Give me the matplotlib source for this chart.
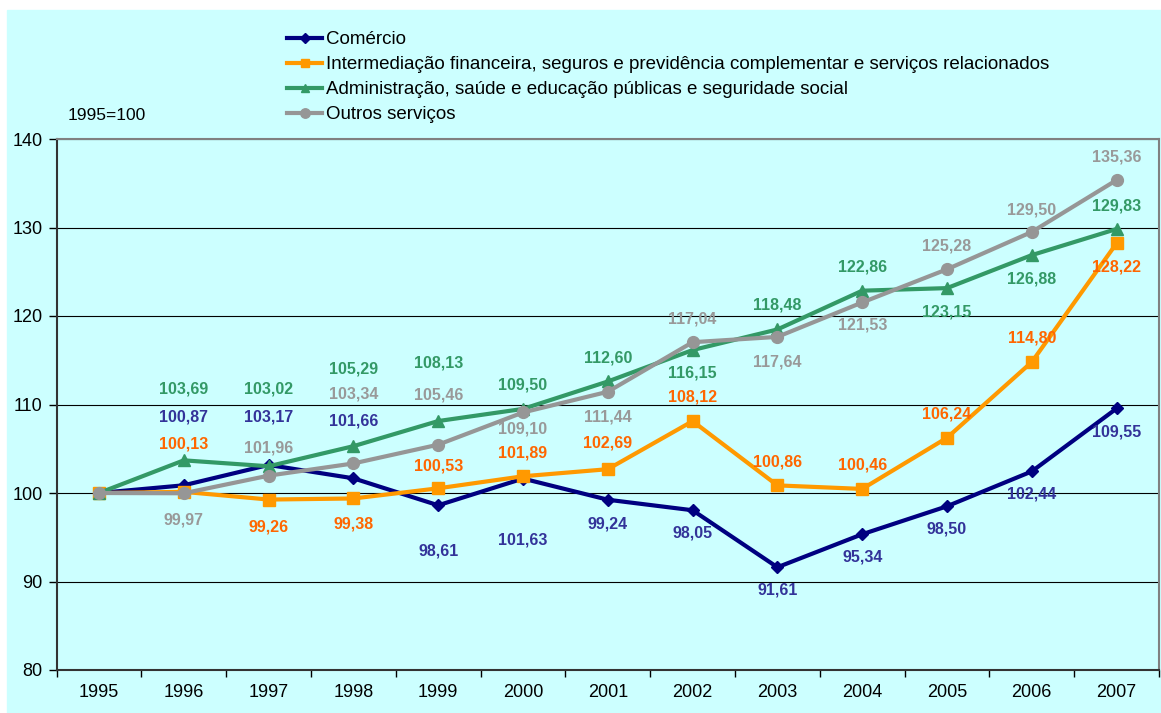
import matplotlib.pyplot as plt
from matplotlib.patches import Rectangle
from matplotlib.ticker import FixedLocator

plt.rcParams['font.family'] = ['Liberation Sans', 'DejaVu Sans']

anos = ['1995', '1996', '1997', '1998', '1999', '2000', '2001',
        '2002', '2003', '2004', '2005', '2006', '2007']

comercio = [100.00, 100.87, 103.17, 101.66, 98.61, 101.63, 99.24,
            98.05, 91.61, 95.34, 98.50, 102.44, 109.55]
financeira = [100.00, 100.13, 99.26, 99.38, 100.53, 101.89, 102.69,
              108.12, 100.86, 100.46, 106.24, 114.80, 128.22]
administracao = [100.00, 103.69, 103.02, 105.29, 108.13, 109.50, 112.60,
                 116.15, 118.48, 122.86, 123.15, 126.88, 129.83]
outros = [100.00, 99.97, 101.96, 103.34, 105.46, 109.10, 111.44,
          117.04, 117.64, 121.53, 125.28, 129.50, 135.36]

nomes = ['Comércio',
         'Intermediação financeira, seguros e previdência complementar e serviços relacionados',
         'Administração, saúde e educação públicas e seguridade social',
         'Outros serviços']

# label offsets in pixels (positive = below the point), first year has no label
desloc_com = [None, -68, -48, -57, 46, 61, 24, 23, 23, 23, 23, 23, 24]
desloc_fin = [None, -48, 27, 26, -22, -23, -26, -24, -23, -24, -24, -24, 24]
desloc_adm = [None, -71, -77, -77, -58, -24, -23, 23, -24, -24, 24, 24, -23]
desloc_out = [None, 27, -28, -69, -50, 17, 25, -23, 25, 23, -23, -22, -23]

series = [
    (comercio, '#000080', '#333399', 'D', 6, desloc_com),
    (financeira, '#FF9900', '#FF6600', 's', 8, desloc_fin),
    (administracao, '#339966', '#339966', '^', 8, desloc_adm),
    (outros, '#969696', '#999999', 'o', 8.5, desloc_out),
]

W, H = 1161, 713
fig = plt.figure(figsize=(W / 100, H / 100), dpi=100, facecolor='white')
fig.patches.append(Rectangle((7 / W, 0), 1 - 7 / W, 1 - 10 / H,
                             transform=fig.transFigure, color='#CCFFFF', zorder=-10))

ax = fig.add_axes([56.6 / W, 1 - 670 / H, (1159 - 56.6) / W, (670 - 139) / H])
ax.set_facecolor('#CCFFFF')

x = list(range(len(anos)))
for (vals, cor, cor_txt, mk, ms, desl), nome in zip(series, nomes):
    ax.plot(x, vals, color=cor, lw=3, marker=mk, ms=ms, label=nome,
            clip_on=False, zorder=3)
    for i, v in enumerate(vals):
        if desl[i] is None:
            continue
        ax.annotate(f"{v:.2f}".replace('.', ','), (i, v), xytext=(0, -desl[i]),
                    textcoords='offset pixels', ha='center', va='center',
                    fontsize=11.5, fontweight='bold', color=cor_txt, zorder=4)

ax.set_ylim(80, 140)
ax.set_xlim(-0.5, 12.5)
ax.set_yticks(range(80, 141, 10))
ax.yaxis.grid(True, color='black', lw=0.8)
ax.set_axisbelow(True)
ax.tick_params(axis='y', labelsize=13, length=6, width=1, pad=4)

ax.xaxis.set_major_locator(FixedLocator([i - 0.5 for i in range(14)]))
ax.xaxis.set_minor_locator(FixedLocator(x))
ax.set_xticklabels([])
ax.set_xticklabels(anos, minor=True)
ax.tick_params(axis='x', which='major', length=5, width=1)
ax.tick_params(axis='x', which='minor', length=0, labelsize=13, pad=10)

for s in ['left', 'bottom']:
    ax.spines[s].set_color('#333333')
    ax.spines[s].set_linewidth(1.5)
for s in ['top', 'right']:
    ax.spines[s].set_color('#808080')
    ax.spines[s].set_linewidth(1.5)

fig.legend(loc='upper left', bbox_to_anchor=(287 / W, 1 - 31 / H), frameon=False,
           fontsize=13.5, handlelength=1.87, handletextpad=0.2, labelspacing=0.42,
           borderpad=0, borderaxespad=0, markerscale=0.8)

fig.text(68 / W, 1 - 115 / H, '1995=100', fontsize=12.5, va='center', ha='left')

fig.savefig('out.png', dpi=100, facecolor=fig.get_facecolor())
